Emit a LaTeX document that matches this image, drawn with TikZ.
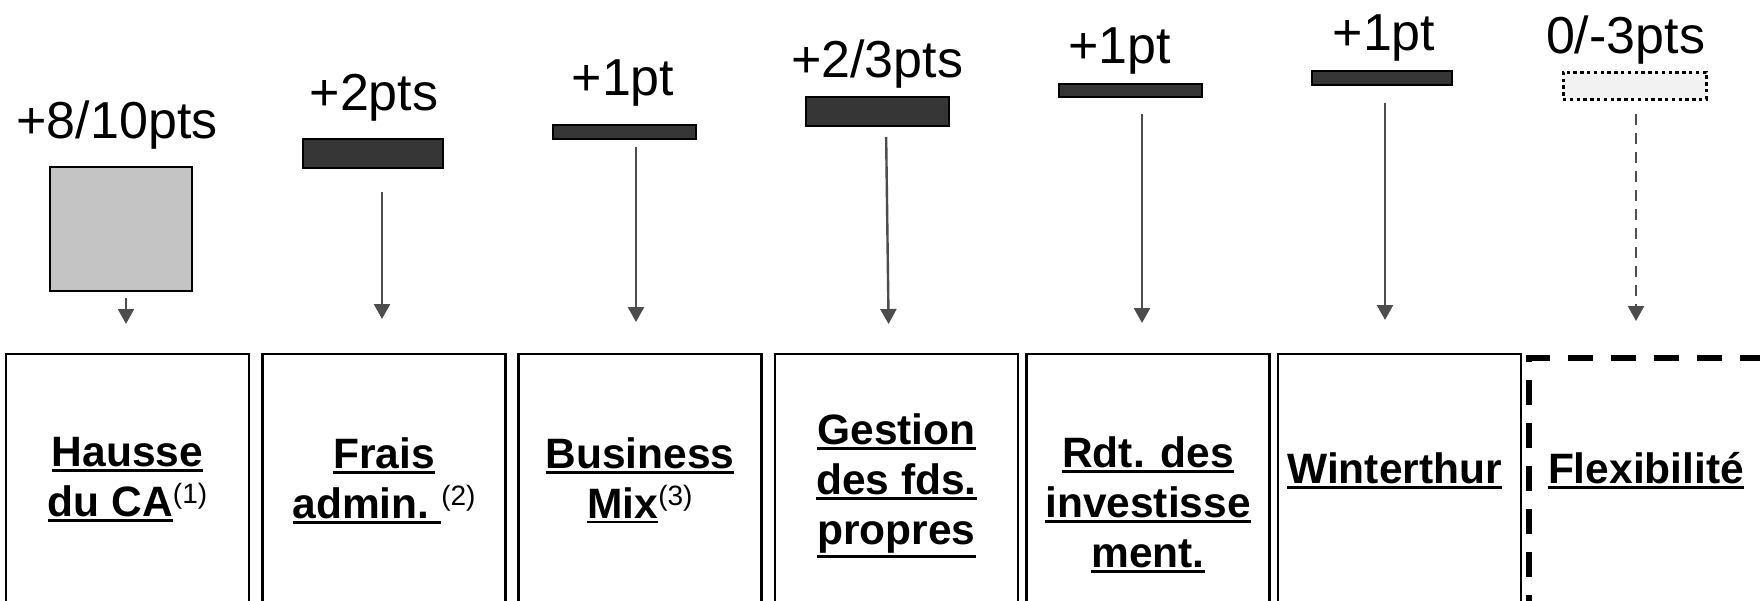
\documentclass[tikz,border=0pt]{standalone}
\usepackage{fontspec}
\setmainfont{Liberation Sans}
\usetikzlibrary{arrows.meta}

\definecolor{barfill}{HTML}{363636}
\definecolor{sqfill}{HTML}{C4C4C4}
\definecolor{ghostfill}{HTML}{F2F2F2}
\definecolor{arrgray}{HTML}{4D4D4D}

% underlined word, rule set below the depth of the text
\newcommand{\ulbox}[1]{\setbox0\hbox{#1}\leavevmode\rlap{\rule[-\dimexpr\dp0+2.6pt\relax]{\wd0}{1.4pt}}\box0}
% footnote number
\newcommand{\supnum}[1]{\raisebox{6.5pt}{\fontsize{14}{14}\selectfont\mdseries(#1)}}

\begin{document}
\begin{tikzpicture}[x=0.5pt,y=-0.5pt,
  val/.style={font=\fontsize{26}{30}\selectfont,inner sep=0pt,anchor=base},
  bar/.style={rectangle,draw=black,line width=0.7pt,fill=barfill,inner sep=0pt,outer sep=0pt,minimum width=71pt},
  box/.style={rectangle,draw=black,line width=1.3pt,inner sep=0pt,outer sep=0pt,minimum width=121.5pt,minimum height=133pt},
  lbl/.style={font=\fontsize{21.25}{25}\selectfont\bfseries,align=center,inner sep=0pt,anchor=north},
  arr/.style={draw=arrgray,line width=1.2pt,-{Triangle[length=7.5pt,width=8pt]}}]

\useasboundingbox (0,0) rectangle (1760,600);

% hausse du CA
\node[val] (v1) at (117,138) {+8/10pts};
\node[rectangle,draw=black,line width=0.9pt,fill=sqfill,inner sep=0pt,outer sep=0pt,minimum width=71pt,minimum height=62pt] (bar1) at (121,229) {};
\node[box] (box1) at (127.5,487) {};
\node[lbl] (t1) at (127.5,437) {\ulbox{Hausse}\\\ulbox{du CA}\supnum{1}};
\draw[arr,shorten <=3.5pt,shorten >=15pt] ([xshift=2.5pt]bar1.south) -- ([xshift=-0.75pt]box1.north);

% frais admin.
\node[val] (v2) at (374,110) {+2pts};
\node[bar,minimum width=70pt,minimum height=14.5pt] (bar2) at (373,153.5) {};
\node[box] (box2) at (384,487) {};
\node[lbl] (t2) at (384,437) {\ulbox{Frais}\\\ulbox{admin.\ }\supnum{2}};
\draw[arr,shorten <=12pt,shorten >=17.5pt] ([xshift=4.5pt]bar2.south) -- ([xshift=-1pt]box2.north);

% business mix
\node[val] (v3) at (623,95) {+1pt};
\node[bar,minimum width=71.5pt,minimum height=7pt] (bar3) at (624.5,132) {};
\node[box] (box3) at (640,487) {};
\node[lbl] (t3) at (640,437) {\ulbox{Business}\\\ulbox{Mix}\supnum{3}};
\draw[arr,shorten <=4pt,shorten >=16pt] ([xshift=5.75pt]bar3.south) -- ([xshift=-2pt]box3.north);

% gestion des fonds propres
\node[val] (v4) at (877,77) {+2/3pts};
\node[bar,minimum width=71.5pt,minimum height=14.5pt] (bar4) at (877.5,111.5) {};
\node[box] (box4) at (896.5,487) {};
\node[lbl] (t4) at (896.5,413) {\ulbox{Gestion}\\\ulbox{des fds.}\\\ulbox{propres}};
\draw[arr,shorten <=5.5pt,shorten >=15pt] ([xshift=4.25pt]bar4.south) -- ([xshift=-3.75pt]box4.north);

% rendement des investissements
\node[val] (v5) at (1119.5,63) {+1pt};
\node[bar,minimum width=71.5pt,minimum height=6.5pt] (bar5) at (1130.5,90.5) {};
\node[box] (box5) at (1148,487) {};
\node[lbl] (t5) at (1148,436) {\ulbox{Rdt. des}\\\ulbox{investisse}\\\ulbox{ment.}};
\draw[arr,shorten <=8.5pt,shorten >=15.5pt] ([xshift=5.75pt]bar5.south) -- ([xshift=-3pt]box5.north);

% winterthur
\node[val] (v6) at (1384,50) {+1pt};
\node[bar,minimum width=70pt,minimum height=7pt] (bar6) at (1382,78) {};
\node[box] (box6) at (1399.5,487) {};
\node[lbl] (t6) at (1394.5,452) {\ulbox{Winterthur}};
\draw[arr,shorten <=9pt,shorten >=17pt] ([xshift=1.5pt]bar6.south) -- ([xshift=-7.25pt]box6.north);

% flexibilite
\node[val] (v7) at (1625.5,53) {0/-3pts};
\node[rectangle,draw=black,line width=1.5pt,dash pattern=on 1.7pt off 1.7pt,fill=ghostfill,inner sep=0pt,outer sep=0pt,minimum width=71.5pt,minimum height=13.5pt] (bar7) at (1634.5,85.5) {};
\node[box,line width=3pt,dash pattern=on 12.5pt off 9pt] (box7) at (1650.5,491) {};
\node[lbl] (t7) at (1646,452) {\ulbox{Flexibilité}};
\draw[arr,dash pattern=on 5.5pt off 4pt,shorten <=7.5pt,shorten >=18.5pt] ([xshift=0.75pt]bar7.south) -- ([xshift=-7.25pt]box7.north);

\end{tikzpicture}
\end{document}
